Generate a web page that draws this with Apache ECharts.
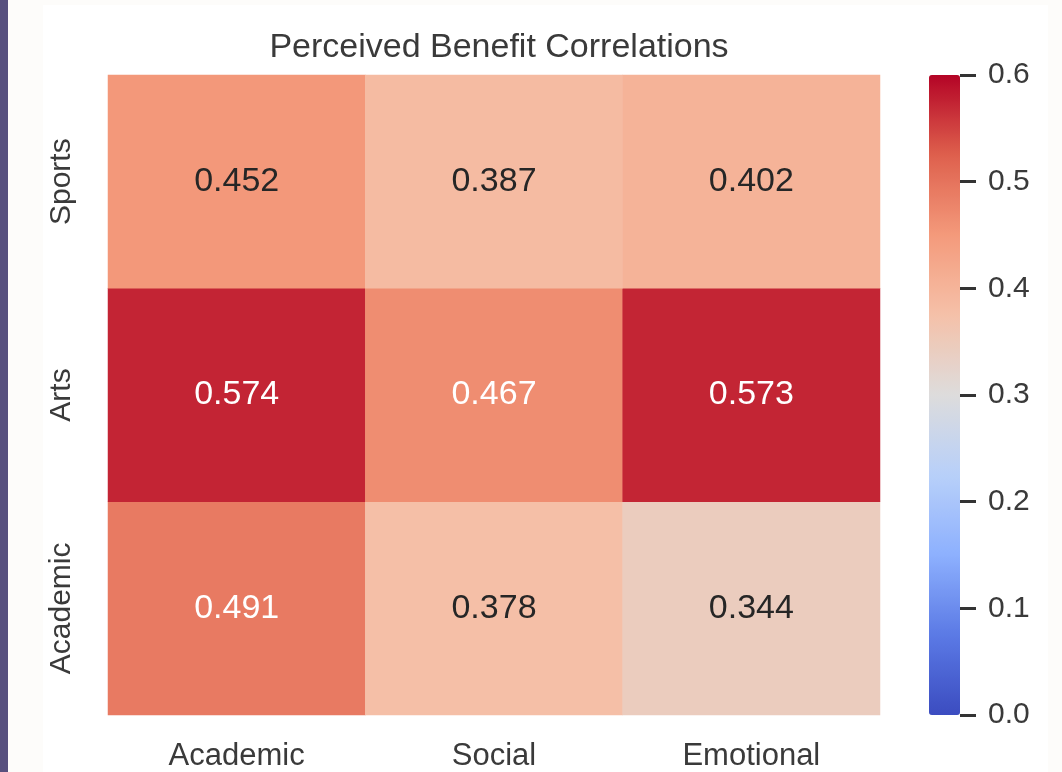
<!DOCTYPE html>
<html>
<head>
<meta charset="utf-8">
<script src="https://cdn.jsdelivr.net/npm/echarts@6/dist/echarts.min.js"></script>
<style>
html,body{margin:0;padding:0;background:#fdfcfa;}
#chart{width:1062px;height:772px;}
</style>
</head>
<body>
<div id="chart"></div>
<script>
const title = 'Perceived Benefit Correlations';
const benefits = ['Academic', 'Social', 'Emotional'];      // x categories
const activities = ['Academic', 'Arts', 'Sports'];        // y categories, bottom to top
const sportsValues = [0.452, 0.387, 0.402];
const artsValues = [0.574, 0.467, 0.573];
const academicValues = [0.491, 0.378, 0.344];
const colorTicks = [0.0, 0.1, 0.2, 0.3, 0.4, 0.5, 0.6];

const rows = { 'Academic': academicValues, 'Arts': artsValues, 'Sports': sportsValues };
const FONT = '"Liberation Sans", Arial, Helvetica, sans-serif';
const TXT = '#3a3a3a';

const data = [];
activities.forEach((act, yi) => {
  rows[act].forEach((v, xi) => {
    data.push({
      value: [xi, yi, v],
      label: { color: v > 0.46 ? '#ffffff' : '#262626' }
    });
  });
});

const chart = echarts.init(document.getElementById('chart'));
chart.setOption({
  backgroundColor: '#fdfcfa',
  animation: false,
  graphic: [
    { type: 'rect', shape: { x: 43, y: 5, width: 1005, height: 767 }, style: { fill: '#ffffff' }, z: -10, silent: true },
    { type: 'rect', shape: { x: 0, y: 0, width: 8, height: 772 }, style: { fill: '#57507e' }, z: -9, silent: true }
  ],
  title: {
    text: title,
    left: 494, top: 26, textAlign: 'center',
    textStyle: { fontFamily: FONT, fontSize: 34, fontWeight: 'normal', color: TXT }
  },
  grid: [
    { left: 108, right: 182, top: 75, bottom: 57 },
    { left: 929, width: 31, top: 75, bottom: 57 }
  ],
  xAxis: [
    {
      type: 'category', data: benefits, gridIndex: 0,
      axisLine: { show: false }, axisTick: { show: false }, splitLine: { show: false },
      axisLabel: { fontFamily: FONT, fontSize: 31, color: TXT, margin: 26 }
    },
    { type: 'value', gridIndex: 1, show: false, min: 0, max: 1 }
  ],
  yAxis: [
    {
      type: 'category', data: activities, gridIndex: 0,
      axisLine: { show: false }, axisTick: { show: false }, splitLine: { show: false },
      axisLabel: { fontFamily: FONT, fontSize: 30, color: TXT, rotate: 90, margin: 31 }
    },
    {
      type: 'value', gridIndex: 1, position: 'right', min: 0, max: 0.6, interval: 0.1, z: 20,
      axisLine: { show: false, onZero: false },
      splitLine: { show: false },
      axisTick: { show: true, inside: false, length: 16, lineStyle: { color: '#333333', width: 3 } },
      axisLabel: { fontFamily: FONT, fontSize: 30, color: TXT, margin: 28,
        formatter: v => v.toFixed(1) }
    }
  ],
  visualMap: {
    type: 'continuous', min: 0, max: 0.6, seriesIndex: 0,
    calculable: false, orient: 'vertical',
    left: 929, top: 75, itemWidth: 31, itemHeight: 640, padding: 0,
    text: ['', ''], showLabel: false, textGap: 0, z: 2,
    inRange: {
      color: ['#3b4cc0', '#5b7ae5', '#8db0fe', '#b8d0f9', '#dddcdc', '#f5c1a9', '#f49a7b', '#de604d', '#b40426']
    }
  },
  series: [
    {
      type: 'heatmap', xAxisIndex: 0, yAxisIndex: 0, data: data,
      label: { show: true, fontFamily: FONT, fontSize: 34, formatter: p => p.value[2].toFixed(3) },
      itemStyle: { borderWidth: 0 },
      emphasis: { disabled: true }
    },
    { type: 'line', xAxisIndex: 1, yAxisIndex: 1, data: [], silent: true }
  ]
});
</script>
</body>
</html>
